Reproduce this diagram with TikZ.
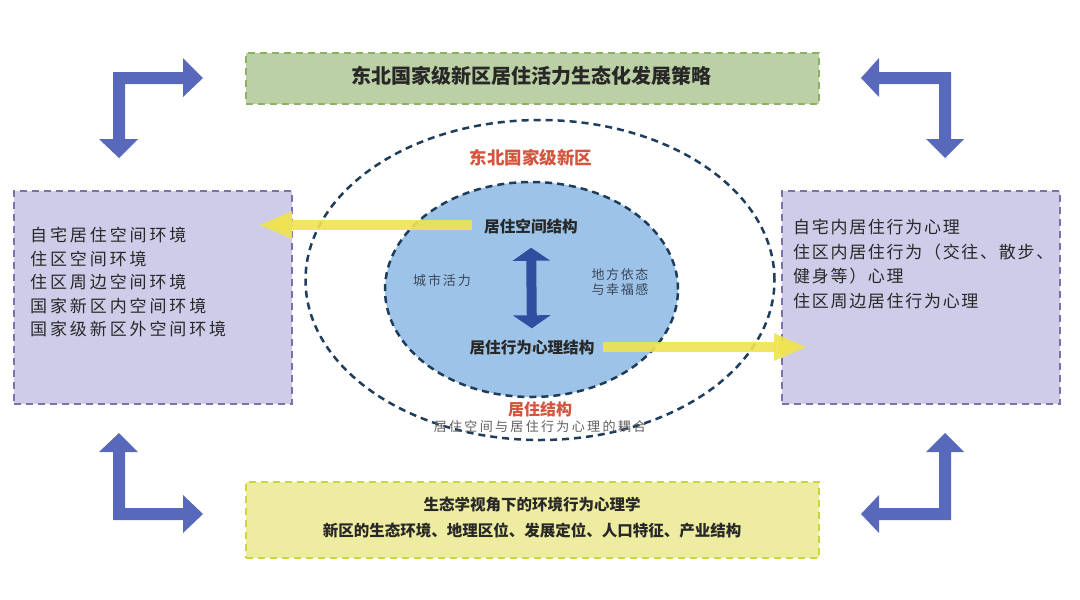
\documentclass[tikz,border=0pt]{standalone}
\usepackage{fontspec}
\setmainfont{Noto Sans CJK SC}
\usetikzlibrary{arrows.meta,shapes.geometric}
\definecolor{lbfill}{RGB}{207,204,234}
\definecolor{lbdraw}{RGB}{122,114,170}
\definecolor{gfill}{RGB}{187,208,164}
\definecolor{gdraw}{RGB}{138,178,96}
\definecolor{yfill}{RGB}{238,236,160}
\definecolor{ydraw}{RGB}{200,214,64}
\definecolor{bluearr}{RGB}{88,104,186}
\definecolor{darkarr}{RGB}{46,78,160}
\definecolor{yelarr}{RGB}{240,228,80}
\definecolor{ellfill}{RGB}{157,196,232}
\definecolor{elldraw}{RGB}{30,60,92}
\definecolor{redtxt}{RGB}{212,84,62}
\definecolor{txt}{RGB}{40,40,40}
\begin{document}
\begin{tikzpicture}[x=1pt,y=-1pt,
  dbox/.style={draw, dash pattern=on 7pt off 5pt, line width=2.4pt, minimum width=#1, anchor=north west, inner sep=0},
  elldash/.style={draw=elldraw, dash pattern=on 7pt off 5pt, line width=2.5pt, ellipse, inner sep=0},
  lighttxt/.style={text=txt, inner sep=0, align=left},
  boldtxt/.style={text=txt, inner sep=0, font=\bfseries\fontsize{15.6}{18}\selectfont},
  lshape/.style={fill=bluearr},
  yarr/.style={draw=yelarr, line width=10pt, opacity=0.9, -{Triangle[width=25pt,length=34pt]}},
  darr/.style={draw=darkarr, line width=10pt, {Triangle[width=37pt,length=13pt]}-{Triangle[width=37pt,length=13pt]}}
]
\useasboundingbox (0,0) rectangle (1080,600);
\fill[white] (0,0) rectangle (1080,600);

% boxes
\node[dbox=573pt, minimum height=51pt, draw=gdraw, fill=gfill] (top) at (245,52) {};
\node[dbox=278pt, minimum height=213pt, draw=lbdraw, fill=lbfill] (left) at (13,190) {};
\node[dbox=278pt, minimum height=213pt, draw=lbdraw, fill=lbfill] (right) at (781,190) {};
\node[dbox=573pt, minimum height=76pt, draw=ydraw, fill=yfill] (bottom) at (245,481) {};

\node[boldtxt, font=\bfseries\fontsize{20}{22}\selectfont] (toptxt) at (531.5,76) {东北国家级新区居住活力生态化发展策略};
\node[boldtxt, align=center, font=\bfseries\fontsize{15.5}{26}\selectfont] (bottxt) at (532,518) {生态学视角下的环境行为心理学\\新区的生态环境、地理区位、发展定位、人口特征、产业结构};

\node[lighttxt, anchor=north west, font=\fontsize{17}{23.5}\selectfont\addfontfeatures{LetterSpace=17}] (lefttxt) at (30,227)
 {自宅居住空间环境\\住区空间环境\\住区周边空间环境\\国家新区内空间环境\\国家级新区外空间环境};
\node[lighttxt, anchor=north west, font=\fontsize{17}{24.6}\selectfont\addfontfeatures{LetterSpace=10}] (righttxt) at (793,219)
 {自宅内居住行为心理\\住区内居住行为（交往、散步、\\健身等）心理\\住区周边居住行为心理};

% ellipses
\node[elldash, minimum width=469pt, minimum height=320pt] (outer) at (540,280) {};
\node[elldash, fill=ellfill, minimum width=293pt, minimum height=215pt] (inner) at (531.5,289.5) {};

\node[boldtxt, text=redtxt, font=\bfseries\fontsize{17.5}{20}\selectfont] (region) at (531,158) {东北国家级新区};
\node[boldtxt] (sp) at (531,227) {居住空间结构};
\node[boldtxt] (bh) at (532,348) {居住行为心理结构};
\node[lighttxt, text={rgb,255:red,60;green,70;blue,90}, font=\fontsize{13}{15}\selectfont\addfontfeatures{LetterSpace=15}] (vit) at (442,281) {城市活力};
\node[lighttxt, align=center, text={rgb,255:red,60;green,70;blue,90}, font=\fontsize{13}{15}\selectfont\addfontfeatures{LetterSpace=12}] (att) at (620,282) {地方依态\\与幸福感};
\node[boldtxt, text=redtxt, font=\bfseries\fontsize{16}{18}\selectfont] (struct) at (540,409) {居住结构};
\node[lighttxt, text={rgb,255:red,95;green,95;blue,95}, font=\fontsize{13}{15}\selectfont\addfontfeatures{LetterSpace=18}] (coup) at (540,427) {居住空间与居住行为心理的耦合};

% connectors
\coordinate (ltip) at (258,225);
\coordinate (rtip) at (808,347);
\draw[yarr, shorten <=12pt] (sp.west |- ltip) -- (ltip);
\draw[yarr, shorten <=8pt] (bh.east |- rtip) -- (rtip);
\draw[darr, shorten <=13pt, shorten >=12pt] (sp.south) -- (bh.north);

% L-shaped arrows
\fill[lshape] (113,139) -- (99,139) -- (119,158) -- (138,139) -- (125,139) -- (125,84) -- (183,84) -- (183,97) -- (203,78) -- (183,58) -- (183,72) -- (113,72) -- cycle;
\fill[lshape] (951,72) -- (879,72) -- (879,58) -- (861,78) -- (879,97) -- (879,84) -- (939,84) -- (939,139) -- (926,139) -- (945,158) -- (964,139) -- (951,139) -- cycle;
\fill[lshape] (113,452) -- (99,452) -- (119,433) -- (138,452) -- (125,452) -- (125,508) -- (183,508) -- (183,495) -- (203,514) -- (183,533) -- (183,520) -- (113,520) -- cycle;
\fill[lshape] (951,520) -- (879,520) -- (879,533) -- (861,514) -- (879,495) -- (879,508) -- (939,508) -- (939,452) -- (926,452) -- (945,433) -- (964,452) -- (951,452) -- cycle;
\end{tikzpicture}
\end{document}
